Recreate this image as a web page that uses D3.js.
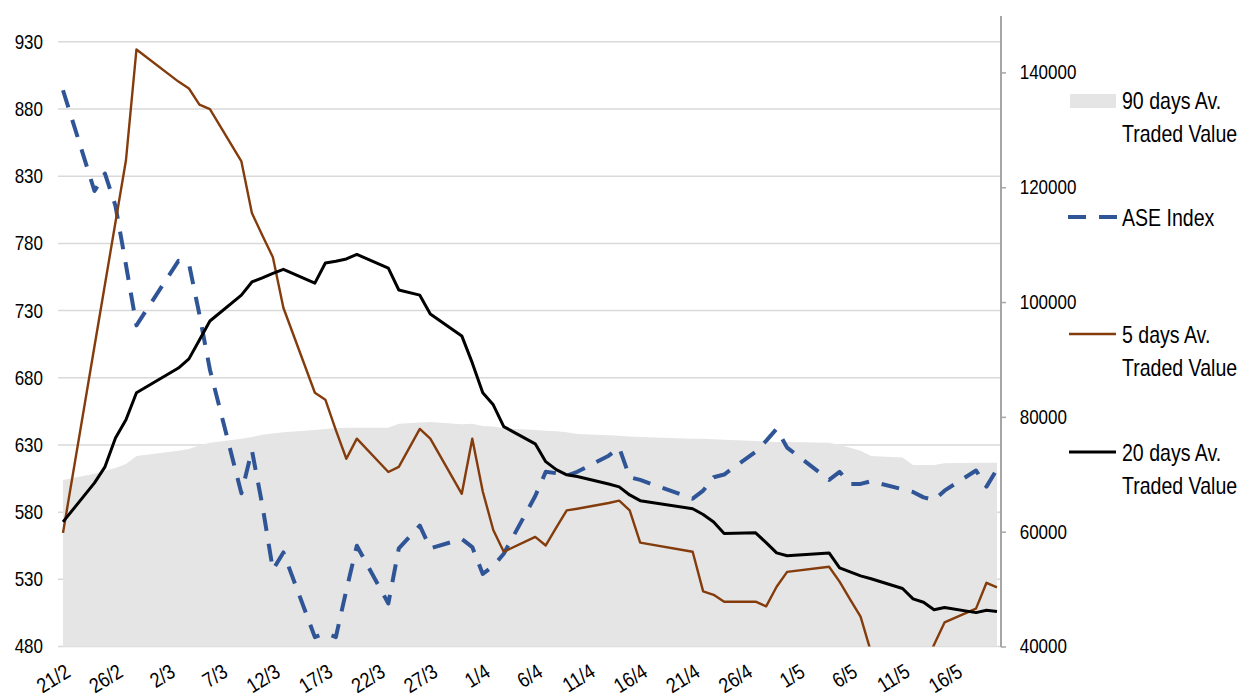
<!DOCTYPE html>
<html>
<head>
<meta charset="utf-8">
<script src="https://cdn.jsdelivr.net/npm/d3@7"></script>
<style>
  body { margin: 0; background: #fff; }
  text { font-family: "Liberation Sans", Arial, sans-serif; fill: #000; }
</style>
</head>
<body>
<div id="chart"></div>
<script>
// trading days (2020)
var days = [
  "2020-02-21","2020-02-24","2020-02-25","2020-02-26","2020-02-27","2020-02-28",
  "2020-03-03","2020-03-04","2020-03-05","2020-03-06","2020-03-09","2020-03-10","2020-03-11","2020-03-12","2020-03-13",
  "2020-03-16","2020-03-17","2020-03-18","2020-03-19","2020-03-20","2020-03-23","2020-03-24","2020-03-26","2020-03-27",
  "2020-03-30","2020-03-31","2020-04-01","2020-04-02","2020-04-03","2020-04-06","2020-04-07","2020-04-08","2020-04-09",
  "2020-04-10","2020-04-13","2020-04-14","2020-04-15","2020-04-16","2020-04-21","2020-04-22","2020-04-23","2020-04-24",
  "2020-04-27","2020-04-28","2020-04-29","2020-04-30","2020-05-04","2020-05-05","2020-05-06","2020-05-07","2020-05-08",
  "2020-05-11","2020-05-12","2020-05-13","2020-05-14","2020-05-15","2020-05-18","2020-05-19","2020-05-20"
];

var aseIndex = [
  894, 819, 832, 808, 764, 719,
  767, 765, 727, 686, 594, 626, 585, 537, 550, 487, 490, 487, 522, 555, 512, 553, 570, 553, 560, 554,
  534, 540, 549, 592, 610, 609, 607, 610, 622, 628, 606, 604, 590, 596, 606, 608, 625, 633, 642, 628,
  604, 610, 601, 601, 603, 597, 595, 591, 589, 596, 611, 599, 612
];

var avg5 = [
  59800, 92300, 103100, 113900, 124700, 144000,
  138400, 137200, 134400, 133600, 124500, 115500, 111600, 107800, 99000, 84200, 83000, 77700, 72700, 76200,
  70400, 71300, 77900, 76200, 66600, 76200,
  67000, 60300, 56500, 59100, 57600, 60700, 63700, 64000, 65000, 65400, 63700, 58100, 56500, 49600,
  49000, 47800, 47800, 47000, 50400, 53000,
  53900, 51300, 48200, 45200, 39000, 35000, 34000, 36000, 40300, 44200, 46600, 51100, 50300
];

var avg20 = [
  61700, 68500, 71300, 76300, 79500, 84200,
  88500, 90100, 93400, 96700, 101200, 103500, 104200, 105000, 105700, 103300, 106800, 107100, 107500, 108300,
  105900, 102100, 101200, 97900, 94100, 89400,
  84200, 82100, 78300, 75300, 72200, 70800, 69900, 69600, 68300, 67800, 66400, 65400, 64000, 63000,
  61700, 59700, 59800, 58100, 56300, 55800,
  56300, 53700, 53000, 52300, 51800, 50100, 48300, 47700, 46400, 46800, 45900, 46300, 46100
];

var avg90 = [
  69000, 70100, 70600, 71100, 71800, 73200,
  74100, 74400, 75000, 75500, 76200, 76500, 76900, 77100, 77300, 77700, 77900, 78000, 78100, 78100,
  78100, 78800, 79000, 79100, 78700, 78800,
  78400, 78300, 78000, 77700, 77600, 77500, 77300, 77000, 76800, 76700, 76600, 76500, 76200, 76200,
  76100, 76000, 75800, 75700, 75600, 75600,
  75500, 75100, 74600, 74100, 73200, 72900, 71600, 71600, 71600, 71900, 72000, 72000, 72000
];

var xTickLabels = ["21/2","26/2","2/3","7/3","12/3","17/3","22/3","27/3","1/4","6/4","11/4","16/4","21/4","26/4","1/5","6/5","11/5","16/5"];
var leftTicks = [480, 530, 580, 630, 680, 730, 780, 830, 880, 930];
var rightTicks = [40000, 60000, 80000, 100000, 120000, 140000];

var width = 1240, height = 697;
var narrow = "scale(0.85,1)";   // Calibri-like narrow look from Liberation Sans
var parse = d3.timeParse("%Y-%m-%d");
var data = days.map(function(d, i) {
  return { date: parse(d), ase: aseIndex[i], a5: avg5[i], a20: avg20[i], a90: avg90[i] };
});
var tickDates = xTickLabels.map(function(s) {
  var p = s.split("/");
  return new Date(2020, +p[1] - 1, +p[0]);
});

var svg = d3.select("#chart").append("svg")
  .attr("width", width)
  .attr("height", height);

var x = d3.scaleTime()
  .domain([parse("2020-02-21"), parse("2020-05-20")])
  .range([63, 997]);
var yL = d3.scaleLinear().domain([480, 950]).range([646.5, 15]);
var yR = d3.scaleLinear().domain([40000, 150000]).range([646.5, 15]);

svg.append("defs").append("clipPath").attr("id", "plot")
  .append("rect").attr("x", 40).attr("y", 15).attr("width", 961).attr("height", 631.5);

// gridlines
svg.append("g")
  .selectAll("line")
  .data(leftTicks)
  .enter().append("line")
    .attr("x1", 58).attr("x2", 1001)
    .attr("y1", function(d) { return yL(d); })
    .attr("y2", function(d) { return yL(d); })
    .attr("stroke", "#d9d9d9")
    .attr("stroke-width", 1.5);

// 90 days area
svg.append("path")
  .datum(data)
  .attr("fill", "#e5e5e5")
  .attr("d", d3.area()
    .x(function(d) { return x(d.date); })
    .y0(yR(40000))
    .y1(function(d) { return yR(d.a90); }));

var g = svg.append("g").attr("clip-path", "url(#plot)");

// ASE index
g.append("path")
  .datum(data)
  .attr("fill", "none")
  .attr("stroke", "#2f5597")
  .attr("stroke-width", 4)
  .attr("stroke-dasharray", "18,13")
  .attr("stroke-linejoin", "round")
  .attr("d", d3.line()
    .x(function(d) { return x(d.date); })
    .y(function(d) { return yL(d.ase); }));

// 5 days
g.append("path")
  .datum(data)
  .attr("fill", "none")
  .attr("stroke", "#843c0c")
  .attr("stroke-width", 2.4)
  .attr("stroke-linejoin", "round")
  .attr("d", d3.line()
    .x(function(d) { return x(d.date); })
    .y(function(d) { return yR(d.a5); }));

// 20 days
g.append("path")
  .datum(data)
  .attr("fill", "none")
  .attr("stroke", "#000")
  .attr("stroke-width", 3)
  .attr("stroke-linejoin", "round")
  .attr("d", d3.line()
    .x(function(d) { return x(d.date); })
    .y(function(d) { return yR(d.a20); }));

// left axis labels
var axL = svg.append("g")
  .attr("transform", "translate(43,0)")
  .call(d3.axisLeft(yL).tickValues(leftTicks).tickSize(0).tickPadding(0).tickFormat(d3.format("d")));
axL.select(".domain").remove();
axL.selectAll("text").style("font-size", "20px").attr("transform", narrow);

// right axis
var axR = svg.append("g")
  .attr("transform", "translate(1001,0)")
  .call(d3.axisRight(yR).tickValues(rightTicks).tickSize(5).tickPadding(17).tickFormat(d3.format("d")));
axR.select(".domain").attr("stroke", "#a6a6a6").attr("stroke-width", 2)
  .attr("d", "M0,16V647");
axR.selectAll(".tick line").attr("stroke", "#a6a6a6").attr("stroke-width", 1.5);
axR.selectAll("text").style("font-size", "20px").attr("transform", narrow);

// x axis labels
var axX = svg.append("g")
  .attr("transform", "translate(0,662)")
  .call(d3.axisBottom(x).tickValues(tickDates).tickSize(0)
    .tickFormat(function(d, i) { return xTickLabels[i]; }));
axX.select(".domain").remove();
axX.selectAll("text")
  .style("font-size", "21px")
  .attr("text-anchor", "end")
  .attr("y", 0)
  .attr("dy", "0.75em")
  .attr("transform", "translate(0,0) rotate(-32) " + narrow);

// legend
var legend = svg.append("g").attr("transform", "translate(1068,0)");
legend.append("rect").attr("x", 2).attr("y", 94).attr("width", 46).attr("height", 14).attr("fill", "#e5e5e5");
legend.append("line").attr("x1", 0).attr("x2", 49).attr("y1", 217).attr("y2", 217)
  .attr("stroke", "#2f5597").attr("stroke-width", 4).attr("stroke-dasharray", "18,13");
legend.append("line").attr("x1", 1).attr("x2", 48).attr("y1", 334).attr("y2", 334)
  .attr("stroke", "#843c0c").attr("stroke-width", 2.5);
legend.append("line").attr("x1", 1).attr("x2", 48).attr("y1", 452).attr("y2", 452)
  .attr("stroke", "#000").attr("stroke-width", 3);

var legendText = [
  ["90 days Av.", 101], ["Traded Value", 134],
  ["ASE Index", 218],
  ["5 days Av.", 335], ["Traded Value", 368],
  ["20 days Av.", 453], ["Traded Value", 486]
];
legend.selectAll("text.lg")
  .data(legendText)
  .enter().append("text")
    .attr("class", "lg")
    .attr("transform", function(d) { return "translate(54," + d[1] + ") " + narrow; })
    .attr("dy", "0.35em")
    .style("font-size", "23px")
    .text(function(d) { return d[0]; });
</script>
</body>
</html>
